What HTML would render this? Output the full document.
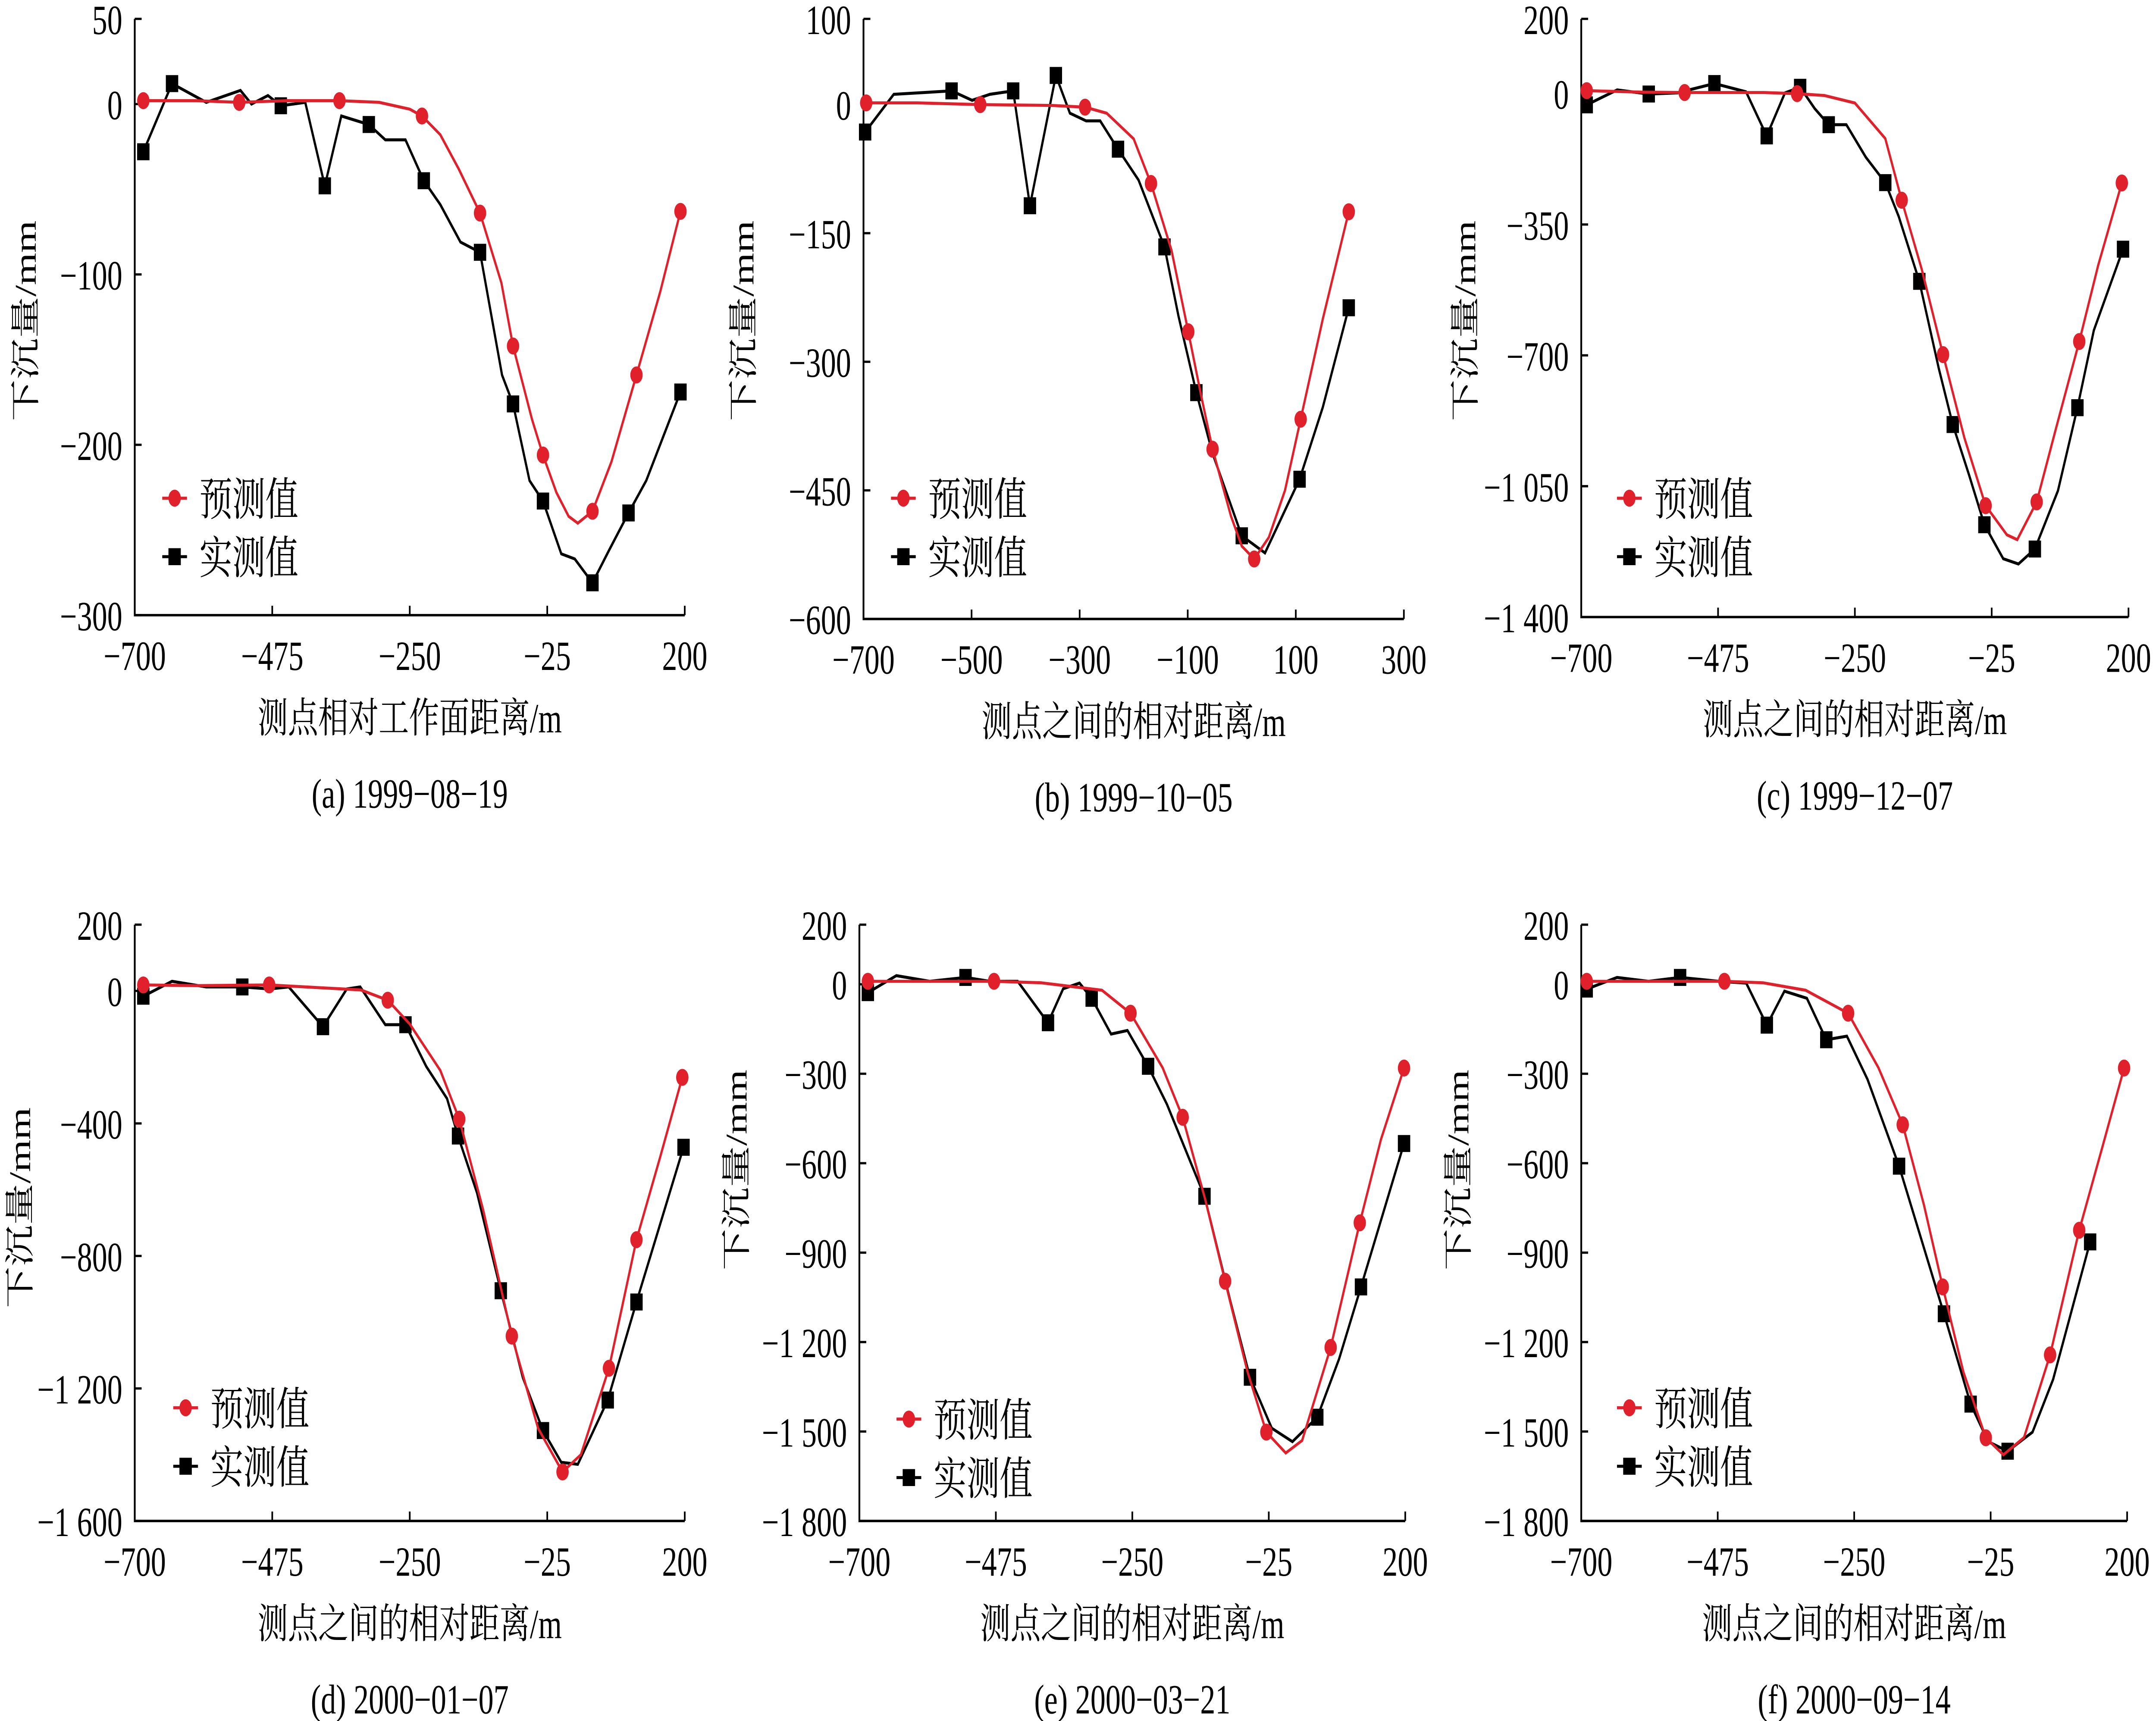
<!DOCTYPE html>
<html><head><meta charset="utf-8"><style>
html,body{margin:0;padding:0;background:#fff;width:100%;height:100%;overflow:hidden;}
svg{display:block;width:100vw;height:100vh;}
text{font-family:"Liberation Serif","Noto Serif CJK SC",serif;fill:#000;}
</style></head>
<body>
<svg id="chart" xmlns="http://www.w3.org/2000/svg" viewBox="0 0 1568 912" preserveAspectRatio="none"></svg>
<script>
const predA=[[-686,2,1],[-600,2,0],[-529,1,1],[-450,2,0],[-365,2,1],[-300,1,0],[-250,-3,0],[-230,-7,1],[-200,-18,0],[-170,-38,0],[-135,-64,1],[-100,-105,0],[-81,-142,1],[-50,-185,0],[-32,-206,1],[-10,-228,0],[10,-242,0],[25,-246,0],[49,-239,1],[80,-210,0],[121,-159,1],[160,-110,0],[193,-63,1]];
const measA=[[-686,-28,1],[-639,12,1],[-583,1,0],[-527,8,0],[-509,0,0],[-482,5,0],[-461,-1,1],[-421,1,0],[-389,-48,1],[-362,-7,0],[-317,-12,1],[-290,-21,0],[-257,-21,0],[-227,-45,1],[-200,-59,0],[-167,-81,0],[-135,-87,1],[-99,-159,0],[-81,-176,1],[-54,-221,0],[-32,-233,1],[-2,-264,0],[20,-267,0],[49,-281,1],[76,-262,0],[108,-240,1],[137,-221,0],[193,-169,1]];
const predB=[[-695,2,1],[-600,2,0],[-484,0,1],[-350,-1,0],[-290,-3,1],[-250,-10,0],[-200,-40,0],[-168,-92,1],[-130,-170,0],[-99,-265,1],[-75,-340,0],[-54,-402,1],[-20,-480,0],[0,-515,0],[23,-530,1],[50,-505,0],[80,-450,0],[109,-367,1],[150,-250,0],[198,-125,1]];
const measB=[[-697,-32,1],[-644,12,0],[-537,16,1],[-499,5,0],[-466,12,0],[-423,16,1],[-392,-118,1],[-344,34,1],[-318,-10,0],[-288,-19,0],[-262,-19,0],[-229,-52,1],[-191,-88,0],[-143,-166,1],[-117,-247,0],[-84,-336,1],[-54,-407,0],[0,-503,1],[43,-523,0],[107,-437,1],[150,-353,0],[198,-237,1]];
const predC=[[-691,8,1],[-600,4,0],[-530,3,1],[-400,3,0],[-345,0,1],[-300,-5,0],[-250,-25,0],[-200,-120,0],[-173,-285,1],[-140,-470,0],[-105,-698,1],[-70,-920,0],[-35,-1102,1],[0,-1180,0],[17,-1193,0],[49,-1092,1],[80,-900,0],[119,-663,1],[150,-460,0],[189,-239,1]];
const measC=[[-691,-30,1],[-641,10,0],[-589,-1,1],[-542,2,0],[-481,27,1],[-429,5,0],[-395,-113,1],[-365,2,0],[-340,17,1],[-316,-40,0],[-293,-83,1],[-264,-83,0],[-232,-170,0],[-200,-238,1],[-178,-328,0],[-144,-502,1],[-112,-735,0],[-89,-885,1],[-62,-1021,0],[-37,-1153,1],[-6,-1244,0],[19,-1258,0],[46,-1218,1],[84,-1062,0],[116,-840,1],[143,-633,0],[191,-416,1]];
const predD=[[-686,18,1],[-600,16,0],[-480,18,1],[-400,10,0],[-330,3,0],[-286,-28,1],[-250,-100,0],[-200,-240,0],[-169,-387,1],[-130,-660,0],[-83,-1042,1],[-40,-1320,0],[0,-1452,1],[30,-1400,0],[76,-1139,1],[121,-751,1],[160,-500,0],[196,-261,1]];
const measD=[[-686,-16,1],[-639,29,0],[-583,12,0],[-524,12,1],[-480,6,0],[-448,12,0],[-392,-108,1],[-353,6,0],[-331,12,0],[-290,-102,0],[-257,-102,1],[-223,-228,0],[-189,-325,0],[-171,-438,1],[-140,-609,0],[-101,-905,1],[-65,-1167,0],[-32,-1327,1],[-2,-1423,0],[25,-1429,0],[74,-1235,1],[121,-939,1],[198,-472,1]];
const predE=[[-686,10,1],[-600,10,0],[-478,10,1],[-400,5,0],[-300,-20,0],[-253,-97,1],[-200,-280,0],[-167,-446,1],[-130,-720,0],[-97,-996,1],[-60,-1300,0],[-29,-1502,1],[3,-1572,0],[30,-1530,0],[77,-1218,1],[125,-800,1],[160,-520,0],[198,-281,1]];
const measE=[[-686,-28,1],[-639,29,0],[-584,10,0],[-525,23,1],[-485,10,0],[-439,10,0],[-389,-129,1],[-364,-15,0],[-337,4,0],[-317,-47,1],[-285,-167,0],[-258,-155,0],[-224,-275,1],[-193,-402,0],[-131,-711,1],[-88,-1066,0],[-56,-1318,1],[-20,-1489,0],[14,-1534,0],[55,-1452,1],[91,-1256,0],[127,-1015,1],[198,-534,1]];
const predF=[[-691,10,1],[-600,10,0],[-464,10,1],[-400,5,0],[-330,-20,0],[-260,-97,1],[-210,-280,0],[-170,-471,1],[-135,-740,0],[-104,-1015,1],[-70,-1300,0],[-33,-1521,1],[-4,-1578,0],[30,-1520,0],[73,-1243,1],[121,-825,1],[160,-540,0],[195,-281,1]];
const measF=[[-691,-16,1],[-641,23,0],[-589,10,0],[-537,23,1],[-473,10,0],[-428,4,0],[-394,-137,1],[-365,-23,0],[-328,-47,0],[-296,-186,1],[-262,-174,0],[-228,-319,0],[-176,-610,1],[-138,-864,0],[-102,-1105,1],[-58,-1408,1],[-29,-1534,0],[3,-1566,1],[44,-1502,0],[78,-1325,0],[139,-864,1]];
const xTicksA=[-700,-475,-250,-25,200];
const xTicksB=[-700,-500,-300,-100,100,300];
const yTicksA=[50,0,-100,-200,-300];
const yTicksB=[100,0,-150,-300,-450,-600];
const yTicksC=[200,0,-350,-700,-1050,-1400];
const yTicksD=[200,0,-400,-800,-1200,-1600];
const yTicksE=[200,0,-300,-600,-900,-1200,-1500,-1800];

const panels=[
 {id:'a',x0:98,x1:498,y0:10,y1:326,xd:[-700,200],yd:[50,-300],xt:xTicksA,yt:yTicksA,p:predA,m:measA,xl:'测点相对工作面距离/m',cap:'(a)  1999−08−19',lg:[118,264],yl:[18,170]},
 {id:'b',x0:628,x1:1021,y0:10,y1:328,xd:[-700,300],yd:[100,-600],xt:xTicksB,yt:yTicksB,p:predB,m:measB,xl:'测点之间的相对距离/m',cap:'(b)  1999−10−05',lg:[648,264],yl:[540,170]},
 {id:'c',x0:1150,x1:1548,y0:10,y1:327,xd:[-700,200],yd:[200,-1400],xt:xTicksA,yt:yTicksC,p:predC,m:measC,xl:'测点之间的相对距离/m',cap:'(c)  1999−12−07',lg:[1176,264],yl:[1065,170]},
 {id:'d',x0:98,x1:498,y0:490,y1:806,xd:[-700,200],yd:[200,-1600],xt:xTicksA,yt:yTicksD,p:predD,m:measD,xl:'测点之间的相对距离/m',cap:'(d)  2000−01−07',lg:[126,746],yl:[14,640]},
 {id:'e',x0:625,x1:1022,y0:490,y1:806,xd:[-700,200],yd:[200,-1800],xt:xTicksA,yt:yTicksE,p:predE,m:measE,xl:'测点之间的相对距离/m',cap:'(e)  2000−03−21',lg:[652,752],yl:[535,620]},
 {id:'f',x0:1150,x1:1547,y0:490,y1:806,xd:[-700,200],yd:[200,-1800],xt:xTicksA,yt:yTicksE,p:predF,m:measF,xl:'测点之间的相对距离/m',cap:'(f)  2000−09−14',lg:[1176,746],yl:[1060,620]}
];
const NS='http://www.w3.org/2000/svg';
const svg=document.getElementById('chart');
function mk(t,a,parent){const e=document.createElementNS(NS,t);for(const k in a)e.setAttribute(k,a[k]);(parent||svg).appendChild(e);return e;}
function fmt(v){let s=Math.abs(v).toString();if(s.length>3)s=s.slice(0,s.length-3)+' '+s.slice(-3);return (v<0?'−':'')+s;}
panels.forEach(P=>{
 const g=mk('g',{});
 
 
 const sx=v=>P.x0+(v-P.xd[0])/(P.xd[1]-P.xd[0])*(P.x1-P.x0);
 const sy=v=>P.y0+(P.yd[0]-v)/(P.yd[0]-P.yd[1])*(P.y1-P.y0);
 const ax=mk('path',{d:`M${P.x0},${P.y0}V${P.y1}H${P.x1}`,stroke:'#000','stroke-width':1.3,fill:'none'},g);
 
 
 P.xt.forEach(v=>{const x=sx(v);mk('line',{x1:x,x2:x,y1:P.y1,y2:P.y1-5,stroke:'#000','stroke-width':1.2},g);
  const t=mk('text',{x:x,y:P.y1+29,'text-anchor':'middle','font-size':22},g);t.textContent=fmt(v);
  
  });
 P.yt.forEach(v=>{const y=sy(v);mk('line',{x1:P.x0,x2:P.x0+5,y1:y,y2:y,stroke:'#000','stroke-width':1.2},g);
  const t=mk('text',{x:P.x0-9,y:y+8,'text-anchor':'end','font-size':22},g);t.textContent=fmt(v);
  
  });
 const yt=mk('text',{x:0,y:0,'text-anchor':'middle','font-size':22,transform:`translate(${P.yl[0]+8},${P.yl[1]}) rotate(-90)`},g);yt.textContent='下沉量/mm';
 
 
 const xt=mk('text',{x:(P.x0+P.x1)/2,y:P.y1+62,'text-anchor':'middle','font-size':22},g);xt.textContent=P.xl;
 
 
 const cp=mk('text',{x:(P.x0+P.x1)/2,y:P.y1+102,'text-anchor':'middle','font-size':22},g);cp.textContent=P.cap;
 
 
 const ml=mk('polyline',{points:P.m.map(d=>sx(d[0])+','+sy(d[1])).join(' '),fill:'none',stroke:'#000','stroke-width':1.6},g);
 
 
 P.m.filter(d=>d[2]).forEach(d=>{const r=mk('rect',{x:sx(d[0])-4.5,y:sy(d[1])-4.5,width:9,height:9,fill:'#000'},g);
  
  });
 const pl=mk('polyline',{points:P.p.map(d=>sx(d[0])+','+sy(d[1])).join(' '),fill:'none',stroke:'#e0202a','stroke-width':1.6},g);
 
 
 P.p.filter(d=>d[2]).forEach(d=>{const c=mk('circle',{cx:sx(d[0]),cy:sy(d[1]),r:4.5,fill:'#e0202a'},g);
  
  });
 const [lx,ly]=P.lg;
 const l1=mk('g',{},g);
 
 
 mk('line',{x1:lx,x2:lx+18,y1:ly,y2:ly,stroke:'#e0202a','stroke-width':1.6},l1);
 mk('circle',{cx:lx+9,cy:ly,r:4.5,fill:'#e0202a'},l1);
 const t1=mk('text',{x:lx+27,y:ly+9,'font-size':24},l1);t1.textContent='预测值';
 const l2=mk('g',{},g);
 
 
 mk('line',{x1:lx,x2:lx+18,y1:ly+31,y2:ly+31,stroke:'#000','stroke-width':1.6},l2);
 mk('rect',{x:lx+4.5,y:ly+26.5,width:9,height:9,fill:'#000'},l2);
 const t2=mk('text',{x:lx+27,y:ly+40,'font-size':24},l2);t2.textContent='实测值';
});
</script>
</body></html>
